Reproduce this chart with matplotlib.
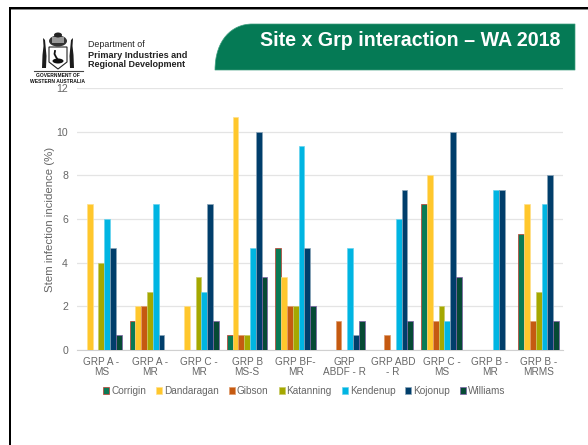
import numpy as np
import matplotlib
matplotlib.use("Agg")
import matplotlib.pyplot as plt
from matplotlib.patches import PathPatch, Polygon, Ellipse, Rectangle
from matplotlib.path import Path

plt.rcParams['font.family'] = ['Liberation Sans', 'DejaVu Sans']

categories = ["GRP A -\nMS", "GRP A -\nMR", "GRP C -\nMR", "GRP B\nMS-S", "GRP BF-\nMR",
              "GRP\nABDF - R", "GRP ABD\n- R", "GRP C -\nMS", "GRP B -\nMR", "GRP B -\nMRMS"]
sites = ["Corrigin", "Dandaragan", "Gibson", "Katanning", "Kendenup", "Kojonup", "Williams"]

corrigin = [0, 1.33, 0, 0.67, 4.67, 0, 0, 6.67, 0, 5.33]
dandaragan = [6.67, 2, 2, 10.67, 3.33, 0, 0, 8, 0, 6.67]
gibson = [0, 2, 0, 0.67, 2, 1.33, 0.67, 1.33, 0, 1.33]
katanning = [4, 2.67, 3.33, 0.67, 2, 0, 0, 2, 0, 2.67]
kendenup = [6, 6.67, 2.67, 4.67, 9.33, 4.67, 6, 1.33, 7.33, 6.67]
kojonup = [4.67, 0.67, 6.67, 10, 4.67, 0.67, 7.33, 10, 7.33, 8]
williams = [0.67, 0, 1.33, 3.33, 2, 1.33, 1.33, 3.33, 0, 1.33]

series = [corrigin, dandaragan, gibson, katanning, kendenup, kojonup, williams]
colors = ["#0a7a55", "#ffc72c", "#c55a11", "#a5a800", "#00b5e2", "#003e6b", "#064a35"]
edges = ["#c0392b", "#ffe08a", "#e09a6a", "#c8ca66", "#66d3ee", "#8aa4b8", "#7b5ea7"]

W, H = 588, 445
grey = "#666666"
fig = plt.figure(figsize=(W / 100, H / 100), dpi=100, facecolor="white")

# page furniture, drawn in pixel coordinates
bg = fig.add_axes([0, 0, 1, 1])
bg.set_xlim(0, W)
bg.set_ylim(H, 0)
bg.axis("off")

bg.add_patch(Rectangle((9, 7), W - 9, 2.2, color="black", lw=0))
bg.add_patch(Rectangle((9, 9.2), W - 9, 0.9, color="#888888", lw=0))
bg.add_patch(Rectangle((8.5, 7), 2, H - 7, color="black", lw=0))

# green title tab with the big rounded corner
tab = Path([(215, 70), (215, 40), (232, 24), (252, 24), (575, 24), (575, 70), (215, 70)],
           [Path.MOVETO, Path.CURVE4, Path.CURVE4, Path.CURVE4, Path.LINETO, Path.LINETO, Path.CLOSEPOLY])
bg.add_patch(PathPatch(tab, facecolor="#057a55", edgecolor="#3f9f80", lw=0.5))
bg.text(410, 40, "Site x Grp interaction \u2013 WA 2018", color="white", fontsize=14.1,
        fontweight="bold", ha="center", va="center")

# department text
bg.text(88, 44.5, "Department of", fontsize=6.4, color="#222222", va="center")
bg.text(88, 55, "Primary Industries and", fontsize=6.55, fontweight="bold", color="#222222", va="center")
bg.text(88, 64.5, "Regional Development", fontsize=6.5, fontweight="bold", color="#222222", va="center")
bg.text(58, 75.5, "GOVERNMENT OF", fontsize=3.5, fontweight="bold", color="#111111", ha="center", va="center")
bg.text(58, 81.5, "WESTERN AUSTRALIA", fontsize=3.6, fontweight="bold", color="#111111", ha="center", va="center")

# rough coat of arms
bg.add_patch(Ellipse((58, 41), 18, 11, color="#333333", lw=0))
bg.add_patch(Rectangle((52, 37), 12, 6, color="#999999", lw=0))
bg.add_patch(Ellipse((58, 35), 8, 5, color="#222222", lw=0))
bg.add_patch(Polygon([(49, 47), (67, 47), (67, 62), (58, 69), (49, 62)], closed=True,
                     facecolor="white", edgecolor="#222222", lw=0.8))
bg.add_patch(Ellipse((58, 61), 11, 5, color="#111111", lw=0))
bg.plot([55, 54.5, 56, 58], [51, 54, 57, 60], color="#111111", lw=1.3)
bg.add_patch(Polygon([(43, 38), (45, 40), (46.5, 56), (46, 68), (42, 68), (42.5, 55), (43.5, 46)],
                     closed=True, color="#1c1c1c", lw=0))
bg.add_patch(Polygon([(73, 38), (71, 40), (69.5, 56), (70, 68), (74, 68), (73.5, 55), (72.5, 46)],
                     closed=True, color="#1c1c1c", lw=0))
bg.plot([34, 83], [71, 71], color="#444444", lw=0.8)

# chart
ax = fig.add_axes([77 / W, 1 - 350 / H, (563 - 77) / W, (350 - 88) / H])
ax.patch.set_alpha(0)

x = np.arange(len(categories))
bar_w = 0.1195
for i, vals in enumerate(series):
    ax.bar(x + (i - 3) * bar_w, vals, bar_w, color=colors[i], edgecolor=edges[i], linewidth=0.5,
           label=sites[i], zorder=3)

ax.set_xlim(-0.5, len(categories) - 0.5)
ax.set_ylim(0, 12)
ax.set_yticks(range(0, 13, 2))
ax.set_xticks(x)
ax.set_xticklabels(categories, linespacing=1.05)
ax.tick_params(axis="both", length=0, labelsize=7.2, labelcolor=grey)
ax.tick_params(axis="x", pad=5)
ax.tick_params(axis="y", pad=6.5, labelsize=7.6)
ax.grid(axis="y", color="#e4e4e4", linewidth=0.9, zorder=0)
ax.set_axisbelow(True)
for s in ["top", "right", "left"]:
    ax.spines[s].set_visible(False)
ax.spines["bottom"].set_color("#d0d0d0")
ax.set_ylabel("Stem infection incidence (%)", fontsize=8.2, color=grey, labelpad=1)

leg = ax.legend(ncol=7, loc="center", bbox_to_anchor=(0.468, -0.1565), frameon=False, fontsize=7.2,
                handlelength=0.6, handleheight=0.6, handletextpad=0.2, columnspacing=1.0,
                borderpad=0, labelcolor=grey)

fig.savefig("out.png", dpi=100)
